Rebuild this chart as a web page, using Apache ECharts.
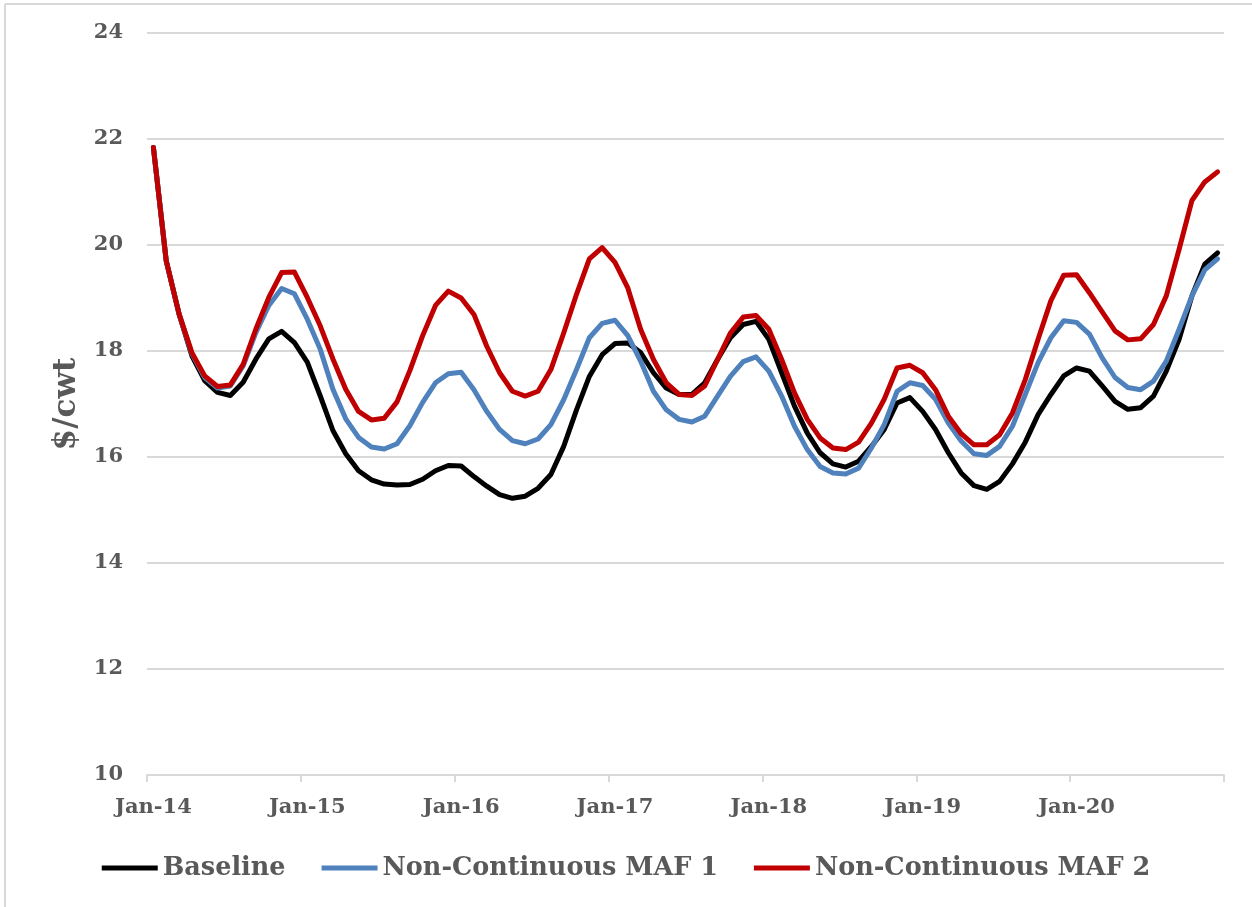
<!DOCTYPE html>
<html>
<head>
<meta charset="utf-8">
<script src="https://cdn.jsdelivr.net/npm/echarts@6/dist/echarts.min.js"></script>
<style>
html,body{margin:0;padding:0;background:#fff;}
#c{width:1252px;height:907px;}
</style>
</head>
<body>
<div id="c"></div>
<script>
var monthNames = ['Jan','Feb','Mar','Apr','May','Jun','Jul','Aug','Sep','Oct','Nov','Dec'];
var years = ['14','15','16','17','18','19','20'];
var categories = [];
years.forEach(function(y){ monthNames.forEach(function(m){ categories.push(m + '-' + y); }); });

var baseline = [
21.84,19.70,18.70,17.91,17.44,17.22,17.16,17.41,17.85,18.23,18.37,18.16,
17.79,17.16,16.50,16.06,15.74,15.57,15.49,15.47,15.48,15.58,15.74,15.84,
15.83,15.63,15.45,15.29,15.22,15.26,15.41,15.67,16.20,16.89,17.52,17.93,
18.14,18.15,17.97,17.59,17.30,17.18,17.18,17.40,17.84,18.25,18.50,18.56,
18.22,17.59,16.96,16.45,16.08,15.87,15.81,15.92,16.20,16.52,17.02,17.12,
16.86,16.52,16.08,15.70,15.46,15.39,15.54,15.87,16.28,16.80,17.18,17.53,
17.68,17.62,17.34,17.05,16.90,16.93,17.15,17.62,18.22,19.04,19.64,19.85
];
var maf1 = [
21.84,19.70,18.70,17.95,17.50,17.30,17.34,17.72,18.35,18.86,19.18,19.08,
18.60,18.04,17.28,16.72,16.37,16.19,16.15,16.25,16.59,17.03,17.40,17.57,
17.60,17.27,16.86,16.52,16.31,16.25,16.34,16.61,17.08,17.65,18.25,18.52,
18.58,18.29,17.81,17.24,16.89,16.71,16.66,16.77,17.15,17.52,17.80,17.89,
17.62,17.15,16.58,16.14,15.82,15.70,15.68,15.79,16.17,16.61,17.24,17.40,
17.35,17.09,16.64,16.30,16.06,16.03,16.20,16.58,17.18,17.78,18.25,18.57,
18.54,18.32,17.87,17.50,17.31,17.27,17.43,17.81,18.41,19.04,19.53,19.74
];
var maf2 = [
21.84,19.70,18.70,17.97,17.53,17.33,17.36,17.75,18.42,19.01,19.48,19.49,
19.01,18.48,17.85,17.28,16.86,16.70,16.73,17.04,17.63,18.29,18.86,19.13,
19.00,18.69,18.09,17.59,17.24,17.15,17.24,17.65,18.34,19.07,19.74,19.95,
19.67,19.19,18.41,17.84,17.40,17.18,17.16,17.34,17.84,18.34,18.64,18.67,
18.41,17.84,17.21,16.71,16.36,16.17,16.14,16.28,16.64,17.09,17.68,17.73,
17.59,17.27,16.77,16.44,16.23,16.23,16.42,16.83,17.46,18.22,18.95,19.43,
19.44,19.10,18.74,18.38,18.21,18.23,18.50,19.04,19.92,20.84,21.19,21.38
];
var seriesNames = ['Baseline','Non-Continuous MAF 1','Non-Continuous MAF 2'];
var colors = ['#000000','#4f81bd','#c00000'];
var yTicks = {min:10, max:24, interval:2};

var font = '"DejaVu Serif", serif';
var txt = '#595959';
var chart = echarts.init(document.getElementById('c'), null, {renderer:'canvas'});
function mk(name, data, color){
  return {name:name, type:'line', data:data, symbol:'none', smooth:false,
    lineStyle:{color:color, width:5, join:'round', cap:'round'}, itemStyle:{color:color},
    emphasis:{disabled:true}, animation:false};
}
chart.setOption({
  animation:false,
  backgroundColor:'#ffffff',
  grid:{left:147, right:28, top:33, bottom:132, containLabel:false},
  graphic:[
    {type:'line', shape:{x1:5,y1:4,x2:1252,y2:4}, style:{stroke:'#d9d9d9', lineWidth:2}},
    {type:'line', shape:{x1:5,y1:4,x2:5,y2:907}, style:{stroke:'#d9d9d9', lineWidth:2}}
  ],
  legend:{
    data:seriesNames, bottom:21, left:'center', itemWidth:56, itemHeight:5, itemGap:36,
    icon:'rect',
    textStyle:{fontFamily:font, fontWeight:'bold', fontSize:25.5, color:txt, padding:[0,0,0,0]}
  },
  xAxis:{
    type:'category', data:categories, boundaryGap:true,
    axisLine:{show:true, lineStyle:{color:'#d9d9d9', width:2}},
    axisTick:{show:true, interval:11, length:7, lineStyle:{color:'#d9d9d9', width:2}},
    axisLabel:{interval:11, margin:22, fontFamily:font, fontWeight:'bold', fontSize:21, color:txt},
    splitLine:{show:false}
  },
  yAxis:{
    type:'value', min:yTicks.min, max:yTicks.max, interval:yTicks.interval,
    name:'$/cwt', nameLocation:'middle', nameGap:63, nameRotate:90,
    nameTextStyle:{fontFamily:font, fontWeight:'bold', fontSize:31, color:txt},
    axisLine:{show:false}, axisTick:{show:false},
    axisLabel:{margin:24, fontFamily:font, fontWeight:'bold', fontSize:21, color:txt},
    splitLine:{show:true, lineStyle:{color:'#d9d9d9', width:2}}
  },
  series:[mk(seriesNames[0], baseline, colors[0]), mk(seriesNames[1], maf1, colors[1]), mk(seriesNames[2], maf2, colors[2])]
});
</script>
</body>
</html>
